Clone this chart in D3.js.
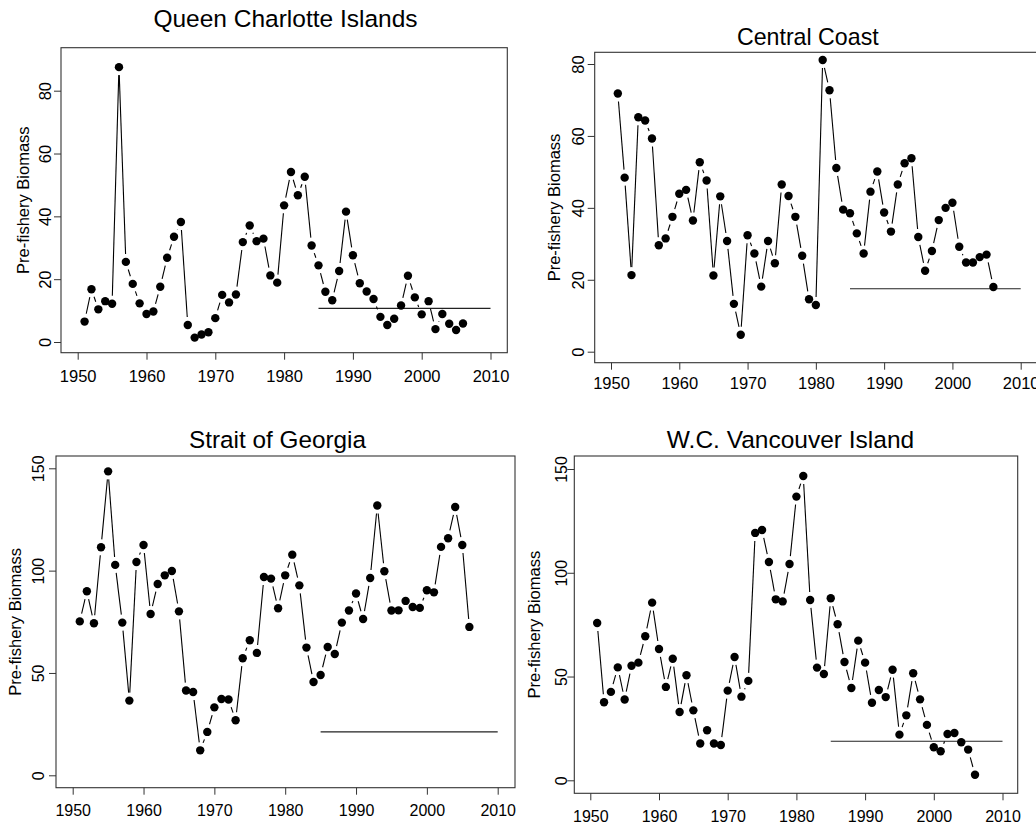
<!DOCTYPE html>
<html>
<head>
<meta charset="utf-8">
<script src="https://cdn.jsdelivr.net/npm/d3@7"></script>
<style>
  body { margin: 0; background: #fff; }
  text { font-family: "Liberation Sans", Arial, Helvetica, sans-serif; fill: #000; }
</style>
</head>
<body>
<svg id="chart" width="1036" height="824"></svg>
<script>
// ---- data ----------------------------------------------------------------
const years = [1951,1952,1953,1954,1955,1956,1957,1958,1959,1960,
               1961,1962,1963,1964,1965,1966,1967,1968,1969,1970,
               1971,1972,1973,1974,1975,1976,1977,1978,1979,1980,
               1981,1982,1983,1984,1985,1986,1987,1988,1989,1990,
               1991,1992,1993,1994,1995,1996,1997,1998,1999,2000,
               2001,2002,2003,2004,2005,2006];

const regionNames = ["Queen Charlotte Islands", "Central Coast", "Strait of Georgia", "W.C. Vancouver Island"];

const qciBiomass = [6.5,16.8,10.4,13.0,12.2,87.5,25.5,18.5,12.3,8.9,
                    9.7,17.6,26.8,33.5,38.2,5.4,1.4,2.4,3.1,7.6,
                    15.0,12.6,15.1,31.8,37.1,32.1,32.9,21.2,18.9,43.5,
                    54.1,46.7,52.6,30.7,24.4,16.0,13.3,22.6,41.5,27.6,
                    18.7,16.1,13.7,8.0,5.4,7.4,11.6,21.1,14.2,8.8,
                    13.0,4.1,8.9,5.8,3.8,5.9];

const ccBiomass = [71.8,48.4,21.3,65.2,64.3,59.3,29.6,31.5,37.5,43.9,
                   45.0,36.5,52.7,47.6,21.2,43.2,30.8,13.3,4.7,32.4,
                   27.3,18.1,30.8,24.6,46.5,43.3,37.5,26.7,14.6,13.0,
                   81.1,72.7,51.1,39.5,38.5,32.9,27.3,44.5,50.1,38.7,
                   33.4,46.5,52.4,53.8,31.9,22.5,28.0,36.6,40.0,41.4,
                   29.2,24.8,24.8,26.3,27.0,18.0];

const sogBiomass = [75.2,89.9,74.3,111.4,148.5,102.8,74.6,36.5,104.2,112.5,
                    78.8,93.5,97.7,99.8,80.1,41.4,40.7,12.2,21.2,33.2,
                    37.3,37.0,26.9,57.2,66.0,59.8,96.9,96.1,81.6,97.7,
                    107.8,92.8,62.4,45.6,49.0,62.7,59.3,74.6,80.5,88.8,
                    76.4,96.4,131.8,99.7,80.5,80.6,85.2,82.2,81.8,90.4,
                    89.4,111.6,115.8,131.1,112.5,72.5];

const wcviBiomass = [75.8,37.6,42.6,54.4,38.9,55.2,56.7,69.4,85.6,63.3,
                     45.0,58.6,32.9,50.6,33.7,17.7,24.1,17.7,17.0,43.2,
                     59.4,40.3,47.9,119.2,120.6,105.2,87.2,86.2,104.2,136.7,
                     146.6,86.9,54.3,51.2,87.7,75.2,57.0,44.5,67.3,56.7,
                     37.4,43.5,40.1,53.3,22.0,31.3,51.6,39.0,26.7,15.9,
                     14.0,22.3,22.8,18.3,14.8,2.7];

// reference biomass level, drawn over the period below
const referenceLevel = [10.7, 17.5, 21.2, 18.8];
const referencePeriod = [1985, 2010];

const xTicks = [1950, 1960, 1970, 1980, 1990, 2000, 2010];
const yTicksSmall = [0, 20, 40, 60, 80];
const yTicksLarge = [0, 50, 100, 150];

const yAxisTitle = "Pre-fishery Biomass";

// ---- panel layout (pixels) ----------------------------------------------
const panels = [
  { name: regionNames[0], values: qciBiomass, ref: referenceLevel[0], ticks: yTicksSmall,
    box: [61, 47.7, 507.3, 352.7], xr: [77.7, 490.5], yr: [342, 90.7],
    title: [285.5, 27.3, 24.5], tickFont: 16.5, yLabBase: 10, xLabBase: 381.7, yTitleX: 29.3 },
  { name: regionNames[1], values: ccBiomass, ref: referenceLevel[1], ticks: yTicksSmall,
    box: [594.7, 52.3, 1040, 362.7], xr: [611, 1020.7], yr: [351.7, 64],
    title: [807.8, 45, 23.2], tickFont: 16.5, yLabBase: 10.7, xLabBase: 389, yTitleX: 560.3 },
  { name: regionNames[2], values: sogBiomass, ref: referenceLevel[2], ticks: yTicksLarge,
    box: [56, 456, 515, 787.7], xr: [72.7, 497.7], yr: [775.3, 468.3],
    title: [277.5, 447.7, 24.3], tickFont: 16, yLabBase: 11.7, xLabBase: 816, yTitleX: 21 },
  { name: regionNames[3], values: wcviBiomass, ref: referenceLevel[3], ticks: yTicksLarge,
    box: [574.3, 456, 1017.7, 793.3], xr: [590.3, 1002.5], yr: [780.3, 469],
    title: [790.5, 447.7, 24.5], tickFont: 16, yLabBase: 7.6, xLabBase: 821.7, yTitleX: 540 }
];

const svg = d3.select("#chart");
const pointRadius = 4.2;
const lineGap = 8;   // gap between line segments and point centres (type "b" style)
const tickLen = 7;

panels.forEach(p => {
  const g = svg.append("g");
  const [bl, bt, br, bb] = p.box;

  const x = d3.scaleLinear().domain([xTicks[0], xTicks[xTicks.length - 1]]).range(p.xr);
  const y = d3.scaleLinear().domain([p.ticks[0], p.ticks[p.ticks.length - 1]]).range(p.yr);

  // frame
  g.append("rect")
    .attr("x", bl).attr("y", bt)
    .attr("width", br - bl).attr("height", bb - bt)
    .attr("fill", "none").attr("stroke", "#333").attr("stroke-width", 1.1);

  // x axis
  const xAxis = g.append("g")
    .attr("transform", `translate(0,${bb})`)
    .call(d3.axisBottom(x).tickValues(xTicks).tickSize(tickLen).tickFormat(d3.format("d")));
  xAxis.select(".domain").remove();
  xAxis.selectAll(".tick line").attr("stroke", "#333");
  xAxis.selectAll(".tick text")
    .attr("y", p.xLabBase - bb).attr("dy", 0)
    .style("font-size", p.tickFont + "px")
    .style("font-family", '"Liberation Sans", Arial, sans-serif')
    .attr("fill", "#000");

  // y axis, labels rotated parallel to the axis
  const yAxis = g.append("g")
    .attr("transform", `translate(${bl},0)`)
    .call(d3.axisLeft(y).tickValues(p.ticks).tickSize(tickLen).tickFormat(d3.format("d")));
  yAxis.select(".domain").remove();
  yAxis.selectAll(".tick line").attr("stroke", "#333");
  yAxis.selectAll(".tick text")
    .attr("transform", "rotate(-90)")
    .attr("x", 0).attr("y", -p.yLabBase).attr("dy", 0)
    .attr("text-anchor", "middle")
    .style("font-size", p.tickFont + "px")
    .style("font-family", '"Liberation Sans", Arial, sans-serif')
    .attr("fill", "#000");

  // axis title
  g.append("text")
    .attr("transform", `translate(${p.yTitleX},${(bt + bb) / 2}) rotate(-90)`)
    .attr("text-anchor", "middle")
    .style("font-size", "16.5px")
    .text(yAxisTitle);

  // panel title
  g.append("text")
    .attr("x", p.title[0]).attr("y", p.title[1])
    .attr("text-anchor", "middle")
    .style("font-size", p.title[2] + "px")
    .text(p.name);

  // reference level
  g.append("line")
    .attr("x1", x(referencePeriod[0])).attr("x2", x(referencePeriod[1]))
    .attr("y1", y(p.ref)).attr("y2", y(p.ref))
    .attr("stroke", "#222").attr("stroke-width", 1.1);

  // series: line segments broken around each point, then the points
  const pts = years.map((yr, i) => [x(yr), y(p.values[i])]);
  const segs = [];
  for (let i = 0; i < pts.length - 1; i++) {
    const [x1, y1] = pts[i], [x2, y2] = pts[i + 1];
    const dx = x2 - x1, dy = y2 - y1, d = Math.hypot(dx, dy);
    if (d > 2 * lineGap) {
      const ux = dx / d, uy = dy / d;
      segs.push([x1 + ux * lineGap, y1 + uy * lineGap, x2 - ux * lineGap, y2 - uy * lineGap]);
    }
  }
  g.append("g").selectAll("line").data(segs).join("line")
    .attr("x1", s => s[0]).attr("y1", s => s[1])
    .attr("x2", s => s[2]).attr("y2", s => s[3])
    .attr("stroke", "#000").attr("stroke-width", 1.1);

  g.append("g").selectAll("circle").data(pts).join("circle")
    .attr("cx", d => d[0]).attr("cy", d => d[1])
    .attr("r", pointRadius).attr("fill", "#000");
});
</script>
</body>
</html>
